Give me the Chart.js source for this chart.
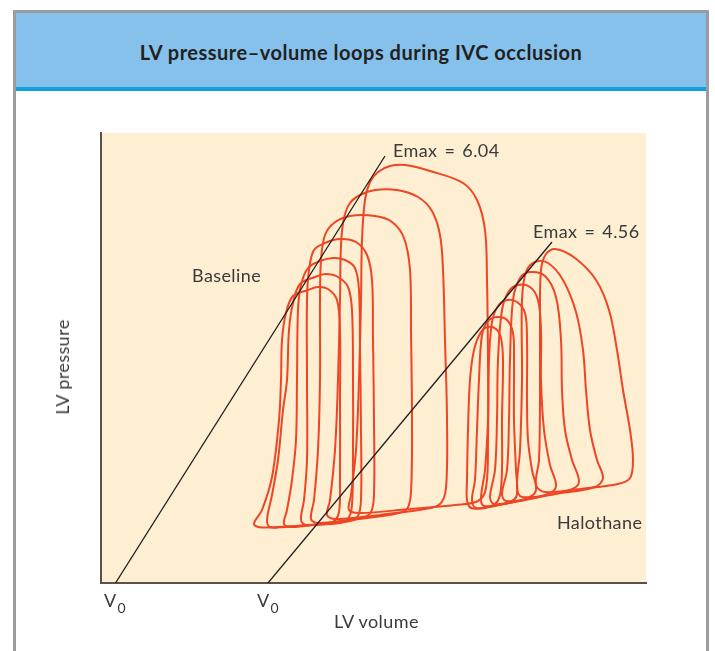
<!DOCTYPE html>
<html><head><meta charset="utf-8">
<script src="https://cdn.jsdelivr.net/npm/chart.js@4.4.1/dist/chart.umd.min.js"></script>
<style>
html,body{margin:0;padding:0;background:#fff;}
#wrap{position:relative;width:715px;height:651px;overflow:hidden;font-family:Lato,"Open Sans",sans-serif;color:#3a3a3a;}
#frame{position:absolute;left:13px;top:10px;width:690px;height:700px;border:3px solid #9c9ca0;border-bottom:none;}
#head{position:absolute;left:16px;top:13px;width:690px;height:74px;background:#85c1ea;}
#strip{position:absolute;left:16px;top:87px;width:690px;height:4px;background:#12a0dc;}
#title{position:absolute;left:16px;top:40px;width:690px;text-align:center;font-weight:700;font-size:20px;letter-spacing:0.5px;color:#231f20;line-height:24px;}
#c{position:absolute;left:0;top:0;}
.lbl{position:absolute;white-space:nowrap;font-size:18px;font-weight:400;letter-spacing:0.4px;line-height:20px;color:#3a3a3a;}
.emax{word-spacing:2px;}
.sub{font-size:14px;position:relative;top:6px;letter-spacing:0;margin-left:1px;}
#ylab{position:absolute;left:62px;top:367px;transform:translate(-50%,-50%) rotate(-90deg);font-size:18px;font-weight:400;letter-spacing:0.4px;white-space:nowrap;color:#3a3a3a;}
</style></head>
<body><div id="wrap">
<div id="frame"></div>
<div id="head"></div>
<div id="strip"></div>
<div id="title">LV pressure–volume loops during IVC occlusion</div>
<canvas id="c" width="715" height="651"></canvas>
<div class="lbl emax" style="left:393px;top:140px;">Emax = 6.04</div>
<div class="lbl emax" style="left:533px;top:221px;">Emax = 4.56</div>
<div class="lbl" style="left:192px;top:265px;">Baseline</div>
<div class="lbl" style="left:557px;top:512px;">Halothane</div>
<div class="lbl" style="left:334px;top:611px;">LV volume</div>
<div class="lbl" style="left:104px;top:590px;">V<span class="sub">0</span></div>
<div class="lbl" style="left:257px;top:590px;">V<span class="sub">0</span></div>
<div id="ylab">LV pressure</div>
</div>
<script>
// Axis ranges (LV volume, mL; LV pressure, mmHg)
const volumeRange = [0, 54.5];
const pressureRange = [0, 180];

// End-systolic pressure-volume relations [volume, pressure]
const emaxBaseline = [[1.45, 0], [28.4, 170.8]];
const emaxHalothane = [[16.7, 0], [45.1, 136.4]];

// Baseline loops [volume, pressure]
const baseLoop1 = [[19.4,22.8],[21.9,23.4],[23.2,24.4],[23.8,28.4],[23.9,41.2],[23.9,73.2],[23.9,101.2],[23.6,113.2],[22.7,117.6],[21.7,118.4],[20.7,117.2],[19.2,114.8],[18.5,108.0],[18.1,97.2],[18.0,81.2],[17.8,65.2],[17.1,42.4],[16.1,29.2],[15.3,23.6],[16.1,22.2],[19.4,22.8]];
const baseLoop2 = [[20.9,23.2],[23.9,24.0],[24.7,25.6],[25.1,31.2],[25.2,53.2],[25.2,81.2],[25.1,109.2],[24.7,118.4],[23.7,122.4],[22.5,123.6],[21.4,122.4],[19.9,119.6],[19.2,112.0],[18.8,101.2],[18.6,81.2],[18.2,69.2],[17.7,49.2],[17.1,35.2],[16.6,25.2],[16.9,22.4],[18.4,22.4],[20.9,23.2]];
const baseLoop3 = [[21.9,23.6],[24.9,24.8],[25.7,26.8],[26.0,33.2],[26.0,61.2],[25.9,93.2],[25.8,117.2],[25.4,126.0],[24.4,129.2],[23.2,130.0],[21.9,128.8],[20.7,126.0],[20.0,119.2],[19.7,109.2],[19.6,81.2],[19.5,57.2],[19.1,41.2],[18.6,29.2],[18.3,23.6],[19.1,22.4],[21.9,23.6]];
const baseLoop4 = [[23.4,24.4],[26.1,26.0],[27.0,28.4],[27.3,35.2],[27.3,65.2],[27.2,97.2],[27.1,121.2],[26.6,131.2],[25.5,136.4],[23.9,137.6],[22.4,136.0],[21.3,133.2],[20.8,125.2],[20.6,113.2],[20.6,81.2],[20.6,49.2],[20.3,33.2],[20.0,25.2],[20.5,23.2],[23.4,24.4]];
const baseLoop5 = [[24.9,25.2],[29.4,27.6],[30.6,29.6],[31.0,36.4],[31.1,65.2],[31.0,101.2],[30.9,125.2],[30.3,138.0],[29.1,144.4],[27.4,146.8],[24.9,146.8],[23.3,144.0],[22.4,139.2],[22.0,129.2],[21.9,113.2],[21.9,81.2],[21.7,53.2],[21.3,33.2],[21.0,25.6],[21.7,24.0],[24.9,25.2]];
const baseLoop6 = [[27.9,27.2],[32.4,29.6],[33.9,31.6],[34.5,38.0],[34.6,65.2],[34.4,97.2],[34.2,125.2],[33.9,139.2],[33.1,148.8],[31.7,154.4],[29.6,157.2],[27.4,157.2],[25.9,155.2],[24.9,152.0],[24.3,146.0],[24.0,135.2],[23.9,113.2],[23.7,81.2],[23.4,53.2],[22.9,33.2],[22.6,27.2],[23.4,25.6],[27.9,27.2]];
const baseLoop7 = [[30.9,29.6],[35.4,31.2],[37.7,32.8],[38.5,38.0],[38.7,57.2],[38.7,89.2],[38.6,121.2],[38.4,141.2],[37.6,153.2],[36.2,160.0],[32.9,164.8],[30.4,167.2],[28.9,166.8],[27.7,164.4],[26.9,160.4],[26.4,153.2],[26.1,137.2],[26.0,113.2],[25.8,81.2],[25.5,53.2],[25.0,35.2],[24.8,29.2],[25.9,28.0],[30.9,29.6]];

// Halothane loops [volume, pressure]
const haloLoop1 = [[38.4,30.0],[39.4,31.6],[39.9,35.2],[40.1,45.2],[40.1,65.2],[40.2,89.2],[40.0,98.0],[39.5,101.6],[38.7,102.4],[38.0,100.4],[37.3,93.2],[36.9,81.2],[36.7,61.2],[36.6,41.2],[36.6,33.2],[37.0,30.0],[38.4,30.0]];
const haloLoop2 = [[39.4,30.8],[41.1,32.8],[41.6,35.6],[41.5,45.2],[41.3,65.2],[41.3,89.2],[41.2,100.0],[40.6,105.2],[39.6,106.4],[38.7,104.8],[38.1,99.2],[37.8,81.2],[37.6,61.2],[37.4,41.2],[37.1,33.2],[37.5,30.0],[39.4,30.8]];
const haloLoop3 = [[40.4,31.6],[42.7,34.0],[43.5,37.2],[43.1,45.2],[42.7,57.2],[42.6,73.2],[42.6,97.2],[42.4,108.0],[41.6,112.4],[40.6,113.2],[39.7,110.8],[39.1,104.4],[38.8,89.2],[38.7,65.2],[38.4,45.2],[38.0,34.0],[38.3,30.8],[40.4,31.6]];
const haloLoop4 = [[41.9,32.8],[44.7,35.6],[45.5,38.8],[44.9,47.2],[44.3,61.2],[44.0,81.2],[44.0,101.2],[43.7,113.2],[42.9,118.4],[41.7,119.2],[40.8,116.8],[40.1,109.2],[39.7,89.2],[39.6,65.2],[39.4,45.2],[38.9,34.4],[39.3,31.6],[41.9,32.8]];
const haloLoop5 = [[43.4,34.0],[46.9,37.2],[47.8,40.4],[47.1,49.2],[46.4,61.2],[46.1,77.2],[46.0,97.2],[45.5,114.4],[44.4,122.8],[42.9,124.4],[41.9,122.0],[41.2,113.2],[40.9,89.2],[40.8,65.2],[40.6,45.2],[40.1,35.6],[40.5,32.8],[43.4,34.0]];
const haloLoop6 = [[45.4,35.6],[49.4,38.4],[50.2,42.0],[49.6,49.2],[48.9,61.2],[48.5,77.2],[48.2,93.2],[47.5,108.4],[46.2,121.2],[44.7,128.0],[43.4,128.4],[42.5,124.4],[42.1,113.2],[42.1,81.2],[41.9,53.2],[41.6,38.0],[42.1,34.4],[45.4,35.6]];
const haloLoop7 = [[47.9,37.6],[51.7,39.6],[52.9,42.0],[53.2,49.2],[52.9,61.2],[52.2,77.2],[51.6,93.2],[50.8,109.2],[49.5,121.2],[47.4,130.0],[45.4,133.6],[44.5,131.6],[44.0,125.2],[43.9,105.2],[43.9,73.2],[43.8,49.2],[43.5,39.2],[44.4,36.4],[47.9,37.6]];

const loops = [baseLoop1, baseLoop2, baseLoop3, baseLoop4, baseLoop5, baseLoop6, baseLoop7,
               haloLoop1, haloLoop2, haloLoop3, haloLoop4, haloLoop5, haloLoop6, haloLoop7];

const toXY = arr => arr.map(p => ({x: p[0], y: p[1]}));
const RED = '#ef4524';

const datasets = [
  {data: toXY(emaxBaseline), borderColor: '#1e1e1e', borderWidth: 1.3, tension: 0},
  {data: toXY(emaxHalothane), borderColor: '#1e1e1e', borderWidth: 1.3, tension: 0}
];
loops.forEach(l => datasets.push({data: toXY(l), borderColor: RED, borderWidth: 2, tension: 0.35, borderJoinStyle: 'round'}));

const bgPlugin = {
  id: 'plotBg',
  beforeDraw(chart) {
    const {ctx, chartArea: a} = chart;
    ctx.save();
    ctx.fillStyle = '#feefd2';
    ctx.fillRect(a.left, a.top, a.right - a.left, a.bottom - a.top);
    ctx.restore();
  }
};

new Chart(document.getElementById('c'), {
  type: 'line',
  data: {datasets},
  options: {
    responsive: false,
    animation: false,
    layout: {padding: {left: 101, top: 133, right: 69, bottom: 68}},
    elements: {point: {radius: 0, hoverRadius: 0}, line: {fill: false, capBezierPoints: true}},
    plugins: {legend: {display: false}, tooltip: {enabled: false}, title: {display: false}},
    scales: {
      x: {type: 'linear', min: volumeRange[0], max: volumeRange[1],
          ticks: {display: false}, grid: {display: false, drawTicks: false},
          border: {display: true, color: '#5b5149', width: 2},
          afterFit(s) { s.height = 0; }},
      y: {type: 'linear', min: pressureRange[0], max: pressureRange[1],
          ticks: {display: false}, grid: {display: false, drawTicks: false},
          border: {display: true, color: '#5b5149', width: 2},
          afterFit(s) { s.width = 0; }}
    }
  },
  plugins: [bgPlugin]
});
</script>
</body></html>
